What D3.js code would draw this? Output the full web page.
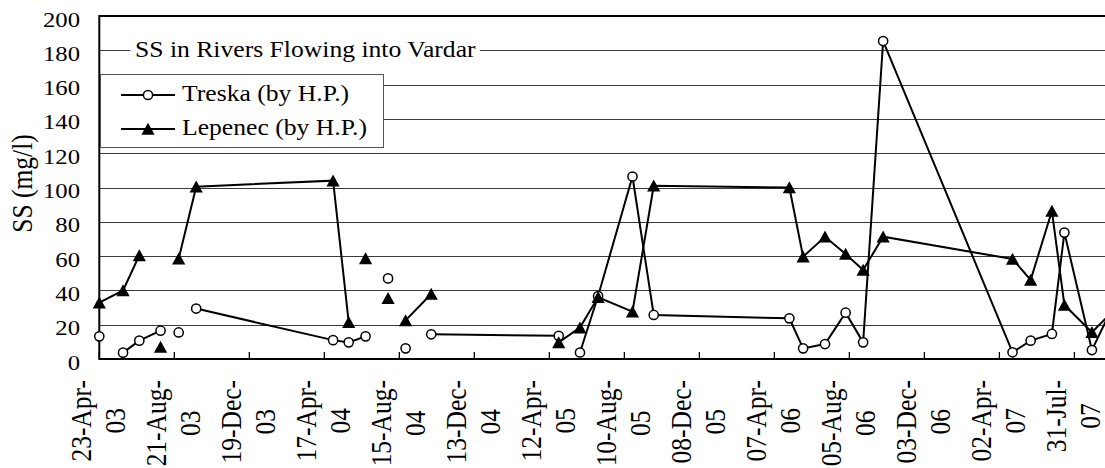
<!DOCTYPE html>
<html>
<head>
<meta charset="utf-8">
<script src="https://cdn.jsdelivr.net/npm/d3@7"></script>
<style>
  html, body { margin: 0; padding: 0; background: #fff; }
  svg { display: block; }
</style>
</head>
<body>
<svg id="chart" width="1105" height="468"></svg>
<script>
// Sampling dates shared by both stations
const sampleDates = [
  "2003-04-23","2003-05-31","2003-06-26","2003-07-30","2003-08-28","2003-09-25",
  "2004-05-01","2004-05-26","2004-06-22","2004-07-28","2004-08-25","2004-10-05",
  "2005-04-27","2005-05-31","2005-06-29","2005-08-23","2005-09-26",
  "2006-05-01","2006-05-23","2006-06-27","2006-07-30","2006-08-27","2006-09-28",
  "2007-04-23","2007-05-22","2007-06-25","2007-07-15","2007-08-28","2007-10-09"
];

// Suspended solids, mg/l
const treska  = [13.2, 3.7, 10.7, 16.5, 15.5, 29.4, 11.0, 9.7, 13.2, 47.0, 6.2, 14.4,
                 13.5, 3.8, 36.7, 106.4, 25.7, 23.7, 6.2, 8.7, 27.0, 9.7, 185.4,
                 3.9, 10.7, 14.6, 73.7, 5.2, 37.0];
const lepenec = [32.9, 40.0, 60.4, 7.0, 58.5, 100.5, 104.0, 21.5, 58.7, 35.5, 22.5, 37.9,
                 9.7, 18.3, 36.0, 27.6, 101.0, 100.0, 59.7, 71.3, 61.2, 51.9, 71.3,
                 58.3, 46.1, 86.3, 31.5, 15.6, 31.0];

// Indices where a new connected run starts (the line is broken before them)
const treskaRuns  = [0, 1, 4, 5, 9, 10, 11, 13];
const lepenecRuns = [0, 3, 4, 8, 9, 10, 12];

const seriesNames = ["Treska (by H.P.)", "Lepenec (by H.P.)"];
const chartTitle = "SS in Rivers Flowing into Vardar";
const yTitle = "SS (mg/l)";

const tickDates = [
  "2003-04-23","2003-08-21","2003-12-19","2004-04-17","2004-08-15","2004-12-13",
  "2005-04-12","2005-08-10","2005-12-08","2006-04-07","2006-08-05","2006-12-03",
  "2007-04-02","2007-07-31"
];
const yTicks = [0, 20, 40, 60, 80, 100, 120, 140, 160, 180, 200];

const FONT = "'Liberation Serif'";
const parse = d3.utcParse("%Y-%m-%d");
const W = 1105, H = 468;
const plot = { left: 99.3, top: 16, bottom: 359, right: W };
const SX = 1.15; // horizontal text stretch

const x = d3.scaleUtc()
  .domain([parse(tickDates[0]), parse(tickDates[tickDates.length - 1])])
  .range([99.3, 1074.4]);
const y = d3.scaleLinear().domain([0, 200]).range([plot.bottom, plot.top]);

const svg = d3.select("#chart");

// Horizontal gridlines
svg.append("g").selectAll("line").data(yTicks.filter(v => v > 0 && v < 200)).join("line")
  .attr("x1", plot.left).attr("x2", plot.right)
  .attr("y1", d => Math.round(y(d)) + 0.5).attr("y2", d => Math.round(y(d)) + 0.5)
  .attr("stroke", "#3a3a3a").attr("stroke-width", 1);

// Top border of the plot area
svg.append("line")
  .attr("x1", plot.left).attr("x2", plot.right)
  .attr("y1", plot.top).attr("y2", plot.top)
  .attr("stroke", "#000").attr("stroke-width", 2);

// Y tick labels
svg.append("g").selectAll("text").data(yTicks).join("text")
  .attr("transform", d => `translate(80,${y(d) + 10.5}) scale(${SX},1)`)
  .attr("text-anchor", "end")
  .attr("font-family", FONT)
  .style("font-size", "21.5px")
  .text(d => d);

// Y axis title
svg.append("text")
  .attr("transform", `translate(31.5,183.5) scale(${SX},1) rotate(-90)`)
  .attr("text-anchor", "middle")
  .attr("font-family", FONT)
  .style("font-size", "25.5px")
  .text(yTitle);

// X axis ticks (inside) and line
const ticks = tickDates.map(parse);
svg.append("g").selectAll("line").data(ticks).join("line")
  .attr("x1", d => x(d)).attr("x2", d => x(d))
  .attr("y1", plot.bottom).attr("y2", plot.bottom - 7)
  .attr("stroke", "#000").attr("stroke-width", 1.3);

svg.append("line")
  .attr("x1", plot.left).attr("x2", plot.right)
  .attr("y1", plot.bottom).attr("y2", plot.bottom)
  .attr("stroke", "#000").attr("stroke-width", 2);
svg.append("line")
  .attr("x1", plot.left).attr("x2", plot.left)
  .attr("y1", plot.top - 1).attr("y2", plot.bottom + 1)
  .attr("stroke", "#000").attr("stroke-width", 2);

// X tick labels: two rotated lines, top-anchored under the axis
const fmtDay = d3.utcFormat("%d-%b-");
const fmtYr = d3.utcFormat("%y");
const xl = svg.append("g").selectAll("g").data(ticks).join("g")
  .attr("transform", d => `translate(${x(d)},380) scale(${SX},1) rotate(-90)`);
xl.append("text").attr("class", "l1")
  .attr("font-family", FONT).style("font-size", "25.5px")
  .attr("text-anchor", "end").attr("y", -7.4)
  .text(d => fmtDay(d));
xl.each(function () {
  const g = d3.select(this);
  const len = g.select(".l1").node().getComputedTextLength();
  g.append("text").attr("text-anchor", "middle")
    .attr("font-family", FONT).style("font-size", "25.5px")
    .attr("x", -len / 2).attr("y", 22.2)
    .text(d => fmtYr(d));
});

// Series
function runs(values, starts) {
  const out = [];
  starts.forEach((s, i) => {
    const e = i + 1 < starts.length ? starts[i + 1] : values.length;
    const pts = [];
    for (let k = s; k < e; k++) pts.push({ date: parse(sampleDates[k]), v: values[k] });
    out.push(pts);
  });
  return out;
}
const line = d3.line().x(d => x(d.date)).y(d => y(d.v));
const triPath = "M0,-6.2L6.6,5.8L-6.6,5.8Z";

function drawSeries(values, starts, marker) {
  const g = svg.append("g");
  g.selectAll("path.ln").data(runs(values, starts).filter(r => r.length > 1)).join("path")
    .attr("class", "ln")
    .attr("d", line).attr("fill", "none")
    .attr("stroke", "#000").attr("stroke-width", 2);
  const pts = values.map((v, i) => ({ date: parse(sampleDates[i]), v }));
  if (marker === "circle") {
    g.selectAll("circle").data(pts).join("circle")
      .attr("cx", d => x(d.date)).attr("cy", d => y(d.v)).attr("r", 4.6)
      .attr("fill", "#fff").attr("stroke", "#000").attr("stroke-width", 1.5);
  } else {
    g.selectAll("path.mk").data(pts).join("path")
      .attr("class", "mk")
      .attr("transform", d => `translate(${x(d.date)},${y(d.v)})`)
      .attr("d", triPath).attr("fill", "#000");
  }
}
drawSeries(treska, treskaRuns, "circle");
drawSeries(lepenec, lepenecRuns, "triangle");

// Chart title with white backing over the gridline
const tg = svg.append("g").attr("transform", `translate(135,57.3) scale(${SX},1)`);
const tBg = tg.append("rect").attr("fill", "#fff");
const tTxt = tg.append("text").attr("font-family", FONT).style("font-size", "22.3px").text(chartTitle);
const tb = tTxt.node().getBBox();
tBg.attr("x", tb.x - 4).attr("y", tb.y).attr("width", tb.width + 8).attr("height", tb.height);

// Legend
const lg = svg.append("g");
lg.append("rect")
  .attr("x", 100.5).attr("y", 74.5).attr("width", 283).attr("height", 73)
  .attr("fill", "#fff").attr("stroke", "#555").attr("stroke-width", 1);
const legendRows = [
  { name: seriesNames[0], marker: "circle", cy: 95 },
  { name: seriesNames[1], marker: "triangle", cy: 129 }
];
legendRows.forEach(r => {
  lg.append("line").attr("x1", 121).attr("x2", 175).attr("y1", r.cy).attr("y2", r.cy)
    .attr("stroke", "#000").attr("stroke-width", 2);
  if (r.marker === "circle") {
    lg.append("circle").attr("cx", 148).attr("cy", r.cy).attr("r", 4.6)
      .attr("fill", "#fff").attr("stroke", "#000").attr("stroke-width", 1.5);
  } else {
    lg.append("path").attr("transform", `translate(148,${r.cy})`).attr("d", triPath).attr("fill", "#000");
  }
  lg.append("text")
    .attr("transform", `translate(182,${r.cy + 5.5}) scale(${SX},1)`)
    .attr("font-family", FONT)
    .style("font-size", "22.3px")
    .text(r.name);
});
</script>
</body>
</html>
